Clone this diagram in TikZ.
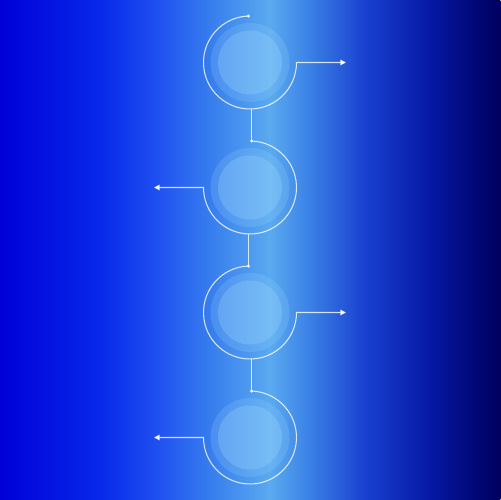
\documentclass[tikz,border=0pt]{standalone}
\usepackage{tikz}
\usetikzlibrary{arrows.meta}

% background colours, left to right
\definecolor{bgA}{RGB}{0,0,215}
\definecolor{bgB}{RGB}{8,40,234}
\definecolor{bgC}{RGB}{32,82,240}
\definecolor{bgD}{RGB}{55,125,238}
\definecolor{bgE}{RGB}{90,170,240}
\definecolor{bgF}{RGB}{58,128,230}
\definecolor{bgG}{RGB}{25,64,208}
\definecolor{bgH}{RGB}{6,24,165}
\definecolor{bgI}{RGB}{0,6,115}
\definecolor{bgJ}{RGB}{0,0,95}
\definecolor{disctint}{RGB}{170,225,255}

\tikzset{
  outerdisc/.style={circle, fill=disctint, fill opacity=0.17, minimum size=1.58cm, inner sep=0pt},
  innerdisc/.style={circle, fill=disctint, fill opacity=0.24, minimum size=1.28cm, inner sep=0pt},
  ringline/.style={draw=white, draw opacity=0.8, line width=0.6pt},
  ringdot/.style={fill=white}
}

\begin{document}
\begin{tikzpicture}[x=0.02cm, y=0.02cm]

    \useasboundingbox (0,0) rectangle (500,500);

    % Horizontal gradient background, built from strips
    \foreach \xa/\xb/\ca/\cb in {0/100/bgA/bgB, 100/160/bgB/bgC, 160/210/bgC/bgD,
        210/270/bgD/bgE, 270/310/bgE/bgF, 310/365/bgF/bgG, 365/430/bgG/bgH,
        430/478/bgH/bgI, 478/500/bgI/bgJ}{
        \fill[left color=\ca, right color=\cb] (\xa-0.3,0) rectangle (\xb+0.3,500);
    }

    % Ring radius and spacing
    \def\ringr{46.5}
    \def\spacing{125}

    % Four discs, side = 1 -> arrow to the right, -1 -> arrow to the left
    \foreach \i/\side in {1/1, 2/-1, 3/1, 4/-1}{
        \pgfmathsetmacro{\cy}{500 - 62.5 - (\i-1)*\spacing}
        \pgfmathsetmacro{\sa}{90 + 2*\side}   % start of the arc (dot)
        \pgfmathsetmacro{\ea}{90 + 270*\side} % end of the arc
        \pgfmathsetmacro{\ax}{250 + 96*\side} % arrow end
        \node[outerdisc] (c\i) at (250,\cy) {};
        \node[innerdisc] (d\i) at (c\i) {};
        \path (c\i) ++(\sa:\ringr) coordinate (top\i);
        \path (c\i) ++(270:\ringr) coordinate (bot\i);
        \coordinate (tip\i) at (\ax,\cy);
        \draw[ringline, -{Triangle[length=3.2pt, width=3.2pt]}]
            (top\i) arc[start angle=\sa, end angle=\ea, radius=\ringr] -- (tip\i);
        \fill[ringdot] (top\i) circle (1.6);
    }

    % Links from the bottom of one ring to the dot of the next
    \foreach \i/\j in {1/2, 2/3, 3/4}{
        \draw[ringline] (bot\i -| top\j) -- (top\j);
    }

\end{tikzpicture}
\end{document}
